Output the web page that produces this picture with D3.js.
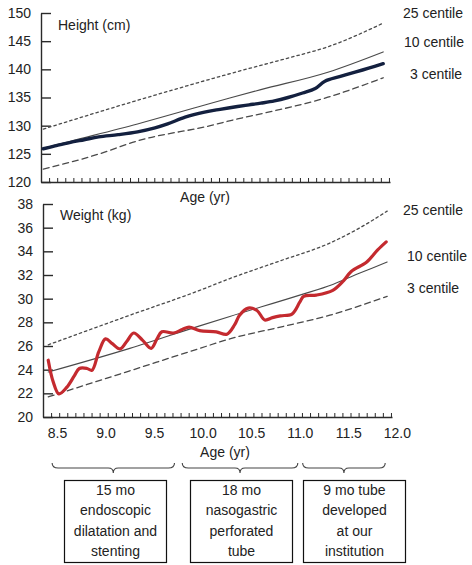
<!DOCTYPE html>
<html><head><meta charset="utf-8">
<script src="https://cdn.jsdelivr.net/npm/d3@7"></script>
<style>
body{margin:0;background:#fff}
text{font-family:"Liberation Sans",Arial,sans-serif;font-size:14px;fill:#222}
</style>
</head><body>
<svg id="c" width="472" height="565"></svg>
<script>
// ---------- DATA ----------
const heightAges   = [8.38, 8.5, 8.65, 8.8, 8.95, 9.15, 9.35, 9.53, 9.66, 9.84, 10.04, 10.2, 10.38, 10.5, 10.62, 10.76, 10.9, 11.05, 11.18, 11.28, 11.43, 11.59, 11.73, 11.88];
const heightValues = [125.9, 126.4, 127.0, 127.5, 128.0, 128.4, 128.9, 129.6, 130.3, 131.5, 132.4, 132.9, 133.4, 133.7, 134.0, 134.4, 135.0, 135.8, 136.6, 137.9, 138.7, 139.5, 140.2, 141.0];

const heightP25Ages   = [8.38, 9.35, 10.38, 10.9, 11.31, 11.88];
const heightP25Values = [129.4, 134.5, 139.6, 142.0, 144.0, 148.2];
const heightP10Ages   = [8.38, 8.65, 9.35, 9.97, 10.3, 10.62, 11.31, 11.88];
const heightP10Values = [126.0, 127.2, 130.3, 133.3, 134.9, 136.4, 139.5, 143.1];
const heightP3Ages    = [8.38, 8.94, 9.35, 10.1, 10.38, 10.62, 11.31, 11.88];
const heightP3Values  = [122.3, 124.9, 127.3, 130.0, 131.2, 132.1, 135.05, 138.5];

const weightAges   = [8.41, 8.46, 8.52, 8.60, 8.68, 8.73, 8.81, 8.86, 8.93, 9.00, 9.07, 9.15, 9.22, 9.29, 9.38, 9.47, 9.53, 9.58, 9.70, 9.79, 9.86, 9.97, 10.14, 10.25, 10.33, 10.38, 10.47, 10.56, 10.64, 10.72, 10.80, 10.92, 11.00, 11.04, 11.17, 11.34, 11.45, 11.53, 11.69, 11.80, 11.89];
const weightValues = [24.8, 23.0, 21.95, 22.5, 23.5, 24.1, 24.1, 23.95, 25.5, 26.6, 26.2, 25.75, 26.4, 27.1, 26.5, 25.8, 26.6, 27.2, 27.1, 27.4, 27.6, 27.3, 27.2, 27.0, 27.8, 28.6, 29.2, 29.0, 28.2, 28.4, 28.55, 28.7, 29.7, 30.2, 30.3, 30.7, 31.5, 32.3, 33.1, 34.1, 34.8];

const weightP25Ages   = [8.41, 9.25, 9.97, 10.28, 10.8, 11.31, 11.6, 11.9];
const weightP25Values = [26.1, 28.6, 30.7, 31.7, 33.2, 34.7, 35.9, 37.4];
const weightP10Ages   = [8.41, 9.25, 9.97, 10.28, 11.0, 11.34, 11.6, 11.75, 11.9];
const weightP10Values = [23.8, 25.8, 27.7, 28.5, 30.3, 31.2, 32.1, 32.6, 33.1];
const weightP3Ages    = [8.41, 9.25, 9.97, 10.28, 10.8, 11.31, 11.9];
const weightP3Values  = [21.7, 23.9, 25.8, 26.6, 27.6, 28.6, 30.2];

const heightTicks = [120, 125, 130, 135, 140, 145, 150];
const weightTicks = [20, 22, 24, 26, 28, 30, 32, 34, 36, 38];
const xTickValues = [8.5, 9.0, 9.5, 10.0, 10.5, 11.0, 11.5, 12.0];
const xTickLabels = ["8.5", "9.0", "9.5", "10.0", "10.5", "11.0", "11.5", "12.0"];
const centileLabels = ["25 centile", "10 centile", "3 centile"];
const periodStarts = [8.45, 9.79, 11.03];
const periodEnds   = [9.71, 10.98, 11.88];
const boxTexts = [
  ["15 mo", "endoscopic", "dilatation and", "stenting"],
  ["18 mo", "nasogastric", "perforated", "tube"],
  ["9 mo tube", "developed", "at our", "institution"]
];

// ---------- SCALES ----------
const ageMin = 8.356, ageMax = 11.95;
const x    = d3.scaleLinear().domain([ageMin, ageMax]).range([43, 392]);
const xTop = d3.scaleLinear().domain([ageMin, ageMax]).range([41, 390]);
const yH = d3.scaleLinear().domain([120, 150]).range([182, 13]);
const yW = d3.scaleLinear().domain([20, 38]).range([417, 204]);
const minorTicks = d3.range(1, 44).map(k => ageMin + k / 12).filter(a => a <= ageMax);

const svg = d3.select("#c");
const axisColor = "#2a2a2a";

function styleAxis(g) {
  g.selectAll("path,line").attr("stroke", axisColor).attr("stroke-width", 1.4);
  g.selectAll("text").attr("fill", "#222").style("font-family", '"Liberation Sans",Arial,sans-serif').style("font-size", "14px");
}

function drawChart(xs, ys, yTicks, series, yLabel, labelPos, xLabelY) {
  const gx0 = xs(ageMin);
  // y axis
  const ya = svg.append("g").attr("transform", `translate(${gx0},0)`)
    .call(d3.axisLeft(ys).tickValues(yTicks).tickSize(-10).tickSizeOuter(0).tickPadding(10));
  styleAxis(ya);
  // x axis (minor ticks)
  const xa = svg.append("g").attr("transform", `translate(0,${ys.range()[0]})`)
    .call(d3.axisBottom(xs).tickValues(minorTicks).tickSize(-4).tickSizeOuter(0).tickFormat(""));
  styleAxis(xa);
  xa.selectAll("line").attr("stroke-width", 1);

  const line = d3.line().x(d => xs(d[0])).y(d => ys(d[1]));
  series.forEach(s => {
    const pts = s.ages.map((a, i) => [a, s.values[i]]);
    svg.append("path").datum(pts)
      .attr("fill", "none")
      .attr("stroke", s.color)
      .attr("stroke-width", s.width)
      .attr("stroke-dasharray", s.dash || null)
      .attr("stroke-linejoin", "round")
      .attr("stroke-linecap", "round")
      .attr("d", line.curve(s.curve || d3.curveMonotoneX));
  });

  svg.append("text").attr("x", gx0 + 17).attr("y", labelPos).text(yLabel);
}

const grey = "#4a4a4a";
drawChart(xTop, yH, heightTicks, [
  {ages: heightP25Ages, values: heightP25Values, color: grey, width: 1.3, dash: "2.5,3"},
  {ages: heightP10Ages, values: heightP10Values, color: grey, width: 1.1},
  {ages: heightP3Ages,  values: heightP3Values,  color: grey, width: 1.3, dash: "6,4"},
  {ages: heightAges,    values: heightValues,    color: "#13203f", width: 3.4, curve: d3.curveCatmullRom}
], "Height (cm)", 30);

drawChart(x, yW, weightTicks, [
  {ages: weightP25Ages, values: weightP25Values, color: grey, width: 1.3, dash: "2.5,3"},
  {ages: weightP10Ages, values: weightP10Values, color: grey, width: 1.1},
  {ages: weightP3Ages,  values: weightP3Values,  color: grey, width: 1.3, dash: "6,4"},
  {ages: weightAges,    values: weightValues,    color: "#c42a2f", width: 3.2, curve: d3.curveCatmullRom}
], "Weight (kg)", 220);

// x tick labels for bottom chart
const xl = svg.append("g").attr("transform", `translate(0,${yW.range()[0]})`)
  .call(d3.axisBottom(x).tickValues(xTickValues).tickFormat((d, i) => xTickLabels[i]).tickSize(0).tickPadding(11));
xl.select(".domain").remove();
styleAxis(xl);

// Age labels
svg.append("text").attr("x", 205).attr("y", 202).attr("text-anchor", "middle").text("Age (yr)");
svg.append("text").attr("x", 225).attr("y", 457).attr("text-anchor", "middle").text("Age (yr)");

// centile labels
const topCent = [[403, 17.5], [404, 46.5], [410, 79]];
const botCent = [[403, 215], [407, 261], [407, 293]];
centileLabels.forEach((t, i) => {
  svg.append("text").attr("x", topCent[i][0]).attr("y", topCent[i][1]).text(t);
  svg.append("text").attr("x", botCent[i][0]).attr("y", botCent[i][1]).text(t);
});

// braces
function bracePath(x0, x1, yTop) {
  const tip = (x0 + x1) / 2, ym = yTop + 5, yt = yTop + 10;
  return `M${x0},${yTop} Q${x0},${ym} ${x0 + 6},${ym} L${tip - 5},${ym} Q${tip},${ym} ${tip},${yt} Q${tip},${ym} ${tip + 5},${ym} L${x1 - 6},${ym} Q${x1},${ym} ${x1},${yTop}`;
}
periodStarts.forEach((s, i) => {
  svg.append("path").attr("d", bracePath(x(s), x(periodEnds[i]), 463))
    .attr("fill", "none").attr("stroke", "#444").attr("stroke-width", 1.1);
});

// boxes
const boxLeft = [64, 190, 303], boxW = 102, boxTop = 480, boxH = 82;
boxTexts.forEach((lines, i) => {
  svg.append("rect").attr("x", boxLeft[i] + 0.5).attr("y", boxTop + 0.5).attr("width", boxW).attr("height", boxH)
    .attr("fill", "#fff").attr("stroke", "#111").attr("stroke-width", 1.2);
  lines.forEach((t, j) => {
    svg.append("text").attr("x", boxLeft[i] + boxW / 2 + 0.5).attr("y", 495 + j * 20.4)
      .attr("text-anchor", "middle").text(t);
  });
});
</script>
</body></html>
